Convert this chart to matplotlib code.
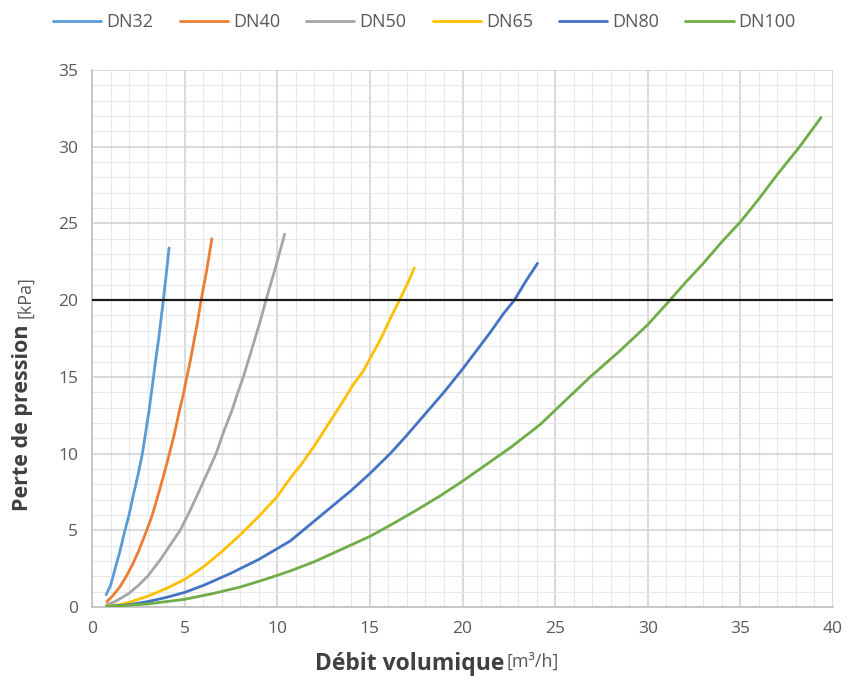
import matplotlib
matplotlib.use("Agg")
import matplotlib.pyplot as plt
from matplotlib.ticker import MultipleLocator

# ---- data ----
series_names = ["DN32", "DN40", "DN50", "DN65", "DN80", "DN100"]

dn32_x = [0.76, 1.0, 1.25, 1.5, 1.78, 2.0, 2.25, 2.5, 2.72, 2.9, 3.08, 3.2, 3.32, 3.45, 3.6, 3.72, 3.85, 4.0, 4.16]
dn32_y = [0.8, 1.4, 2.5, 3.6, 5.0, 6.0, 7.4, 8.7, 10.0, 11.4, 12.8, 13.9, 15.0, 16.2, 17.5, 18.7, 20.0, 21.6, 23.4]

dn40_x = [0.8, 1.1, 1.5, 1.85, 2.2, 2.5, 2.86, 3.2, 3.5, 3.85, 4.18, 4.45, 4.72, 4.92, 5.12, 5.3, 5.5, 5.7, 5.89, 6.2, 6.47]
dn40_y = [0.35, 0.7, 1.3, 2.0, 2.8, 3.6, 4.7, 5.8, 7.0, 8.5, 10.0, 11.3, 12.8, 13.8, 15.0, 16.0, 17.3, 18.6, 20.0, 22.0, 24.0]

dn50_x = [0.8, 1.2, 1.6, 2.0, 2.5, 3.0, 3.7, 4.2, 4.76, 5.3, 5.8, 6.25, 6.7, 7.1, 7.55, 7.85, 8.17, 8.5, 8.8, 9.1, 9.39, 9.9, 10.4]
dn50_y = [0.15, 0.33, 0.6, 0.9, 1.4, 2.0, 3.1, 4.0, 5.0, 6.3, 7.6, 8.8, 10.0, 11.4, 12.8, 13.9, 15.0, 16.3, 17.5, 18.7, 20.0, 22.1, 24.3]

dn65_x = [0.8, 1.5, 2.0, 3.0, 4.0, 5.0, 6.0, 7.0, 8.0, 9.0, 10.0, 10.7, 11.3, 12.0, 12.8, 13.6, 14.1, 14.6, 15.1, 15.6, 16.1, 16.6, 17.0, 17.4]
dn65_y = [0.05, 0.15, 0.3, 0.7, 1.2, 1.8, 2.6, 3.6, 4.7, 5.9, 7.2, 8.4, 9.3, 10.5, 12.0, 13.5, 14.5, 15.3, 16.4, 17.5, 18.8, 20.0, 21.0, 22.1]

dn80_x = [0.8, 2.0, 3.0, 4.0, 5.0, 6.0, 7.5, 9.0, 10.7, 11.5, 12.2, 13.0, 14.0, 15.0, 16.1, 17.0, 18.0, 19.0, 20.0, 21.0, 21.5, 22.2, 22.8, 23.4, 24.05]
dn80_y = [0.03, 0.15, 0.35, 0.62, 0.95, 1.4, 2.2, 3.1, 4.3, 5.1, 5.8, 6.6, 7.6, 8.7, 10.0, 11.2, 12.6, 14.0, 15.5, 17.1, 17.9, 19.1, 20.0, 21.2, 22.4]

dn100_x = [0.8, 3.0, 5.0, 6.5, 8.0, 9.5, 10.7, 12.0, 13.0, 14.0, 15.0, 16.2, 17.5, 18.8, 20.0, 21.3, 22.6, 24.2,
           25.5, 26.9, 28.5, 30.0, 31.2, 32.0, 33.0, 34.0, 35.0, 36.0, 37.0, 38.2, 39.35]
dn100_y = [0.02, 0.2, 0.5, 0.87, 1.3, 1.86, 2.35, 2.95, 3.5, 4.05, 4.6, 5.4, 6.3, 7.25, 8.2, 9.3, 10.4, 11.9,
           13.4, 15.0, 16.7, 18.4, 20.0, 21.1, 22.4, 23.8, 25.1, 26.6, 28.2, 30.0, 31.9]

limit_y = 20

x_ticks = [0, 5, 10, 15, 20, 25, 30, 35, 40]
y_ticks = [0, 5, 10, 15, 20, 25, 30, 35]

colors = ["#5B9BD5", "#ED7D31", "#A5A5A5", "#FFC000", "#4472C4", "#70AD47"]

xs = [dn32_x, dn40_x, dn50_x, dn65_x, dn80_x, dn100_x]
ys = [dn32_y, dn40_y, dn50_y, dn65_y, dn80_y, dn100_y]

# ---- figure ----
fig = plt.figure(figsize=(8.49, 6.90), dpi=100)
ax = fig.add_axes([92 / 849, 1 - 607 / 690, (833 - 92) / 849, (607 - 70) / 690])

for x, y, name, c in zip(xs, ys, series_names, colors):
    ax.plot(x, y, color=c, lw=2.0, label=name, solid_capstyle="round",
            solid_joinstyle="round", zorder=3)

ax.axhline(limit_y, color="#1a1a1a", lw=1.6, zorder=4)

ax.set_xlim(0, 40)
ax.set_ylim(0, 35)
ax.set_xticks(x_ticks)
ax.set_yticks(y_ticks)
ax.xaxis.set_minor_locator(MultipleLocator(1))
ax.yaxis.set_minor_locator(MultipleLocator(1))
ax.grid(which="major", color="#cfcfcf", lw=1.1, zorder=1)
ax.grid(which="minor", color="#e8e8e8", lw=0.8, zorder=0)
ax.set_axisbelow(True)

for s in ["top", "right"]:
    ax.spines[s].set_visible(False)
for s in ["left", "bottom"]:
    ax.spines[s].set_color("#bfbfbf")
    ax.spines[s].set_linewidth(1.2)

ax.tick_params(which="both", length=0, labelsize=12.5, labelcolor="#595959", pad=10)
for lab in ax.get_xticklabels() + ax.get_yticklabels():
    lab.set_fontfamily("Open Sans")

# axis labels
fig.text(504 / 849, 1 - 664 / 690, "Débit volumique", ha="right", va="center",
         fontsize=16.5, fontweight="bold", color="#404040", family="Open Sans")
fig.text(507 / 849, 1 - 662 / 690, "[m³/h]", ha="left", va="center",
         fontsize=13, color="#595959", family="Open Sans")
fig.text(23 / 849, 1 - 418 / 690, "Perte de pression", ha="center", va="center",
         rotation=90, fontsize=15.5, fontweight="bold", color="#404040", family="Open Sans")
fig.text(25 / 849, 1 - 318 / 690, "[kPa]", ha="center", va="bottom",
         rotation=90, fontsize=13, color="#595959", family="Open Sans")

leg = fig.legend(loc="center", bbox_to_anchor=(0.5, 1 - 22 / 690), ncol=6, frameon=False,
                 handlelength=2.67, columnspacing=1.45, handletextpad=0.28,
                 prop={"family": "Open Sans", "size": 13})
for t in leg.get_texts():
    t.set_color("#595959")

fig.savefig("out.png", dpi=100)
